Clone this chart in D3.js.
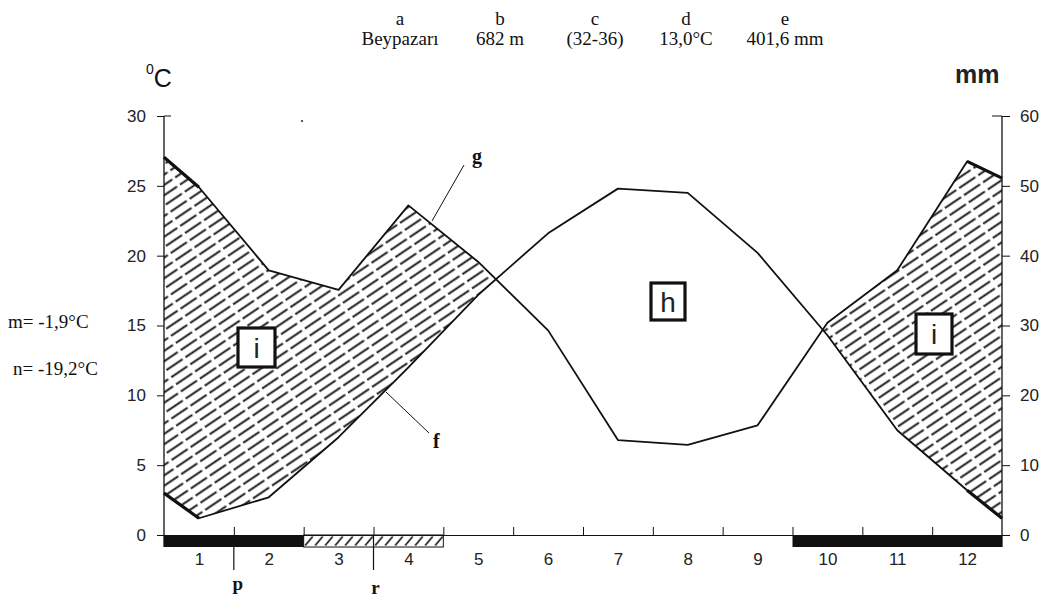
<!DOCTYPE html>
<html><head><meta charset="utf-8">
<script src="https://cdn.jsdelivr.net/npm/d3@7"></script>
<style>body{margin:0;background:#fff}svg{display:block}</style>
</head><body>
<svg id="c" width="1047" height="602"></svg>
<script>
// ---- data ----
const monthLabels = ["1","2","3","4","5","6","7","8","9","10","11","12"];
const monthValues = [1,2,3,4,5,6,7,8,9,10,11,12];
// line vertices (month position), incl. the two edge points of the diagram
const linePos = [0.5,1,2,3,4,5,6,7,8,9,10,11,12,12.5];
const temperature = [3.0,1.2,2.7,7.0,12.0,17.2,21.6,24.8,24.5,20.2,14.3,7.5,3.2,1.2];
const precipitation = [54.1,49.8,37.9,35.1,47.2,39.1,29.3,13.6,12.9,15.7,30.4,37.9,53.5,51.1];
const tempTicks = [0,5,10,15,20,25,30];
const precipTicks = [0,10,20,30,40,50,60];
const blackPeriods = [[0.5,2.5],[9.5,12.5]];
const hatchPeriods = [[2.5,4.5]];
const boundaryTicks = [1.5,2.5,3.5,4.5,5.5,6.5,7.5,8.5,9.5,10.5,11.5];
const markLabels = ["p","r"];
const markPos = [1.5,3.5];
const headerKeys = ["a","b","c","d","e"];
const headerValues = ["Beypazarı","682 m","(32-36)","13,0°C","401,6 mm"];
const sideTexts = ["m= -1,9°C","n= -19,2°C"];

// ---- layout ----
const svg = d3.select("#c");
const L = 164, R = 1002, T = 116, B = 535, barH = 12;
const x = d3.scaleLinear([0.5,12.5],[L,R]);
const yT = d3.scaleLinear([0,30],[B,T]);
const yP = d3.scaleLinear([0,60],[B,T]);
const ink = "#111";
const sans = "'Liberation Sans', Arial, sans-serif";
const serif = "'Liberation Serif', 'Times New Roman', serif";

const defs = svg.append("defs");
const pat = defs.append("pattern").attr("id","hatch").attr("patternUnits","userSpaceOnUse")
  .attr("width",23).attr("height",8.6).attr("patternTransform","rotate(-34)");
pat.append("line").attr("x1",0).attr("y1",4.3).attr("x2",19.5).attr("y2",4.3)
  .attr("stroke",ink).attr("stroke-width",1.9);
const pat2 = defs.append("pattern").attr("id","slash").attr("patternUnits","userSpaceOnUse")
  .attr("x",x(2.5)).attr("y",B).attr("width",10).attr("height",barH);
pat2.append("line").attr("x1",1.5).attr("y1",barH-1.5).attr("x2",9).attr("y2",1.5)
  .attr("stroke",ink).attr("stroke-width",1.6);

const pts = linePos.map((m,i)=>({m, t:temperature[i], p:precipitation[i]}));

// clip: region above the temperature line
defs.append("clipPath").attr("id","aboveT").append("path")
  .attr("d", d3.area().x(d=>x(d.m)).y0(0).y1(d=>yT(d.t))(pts));
// humid (hatched) area: below precipitation, above temperature
svg.append("path")
  .attr("d", d3.area().x(d=>x(d.m)).y0(B).y1(d=>yP(d.p))(pts))
  .attr("fill","url(#hatch)").attr("clip-path","url(#aboveT)");

// lines
const lT = d3.line().x(d=>x(d.m)).y(d=>yT(d.t));
const lP = d3.line().x(d=>x(d.m)).y(d=>yP(d.p));
svg.append("path").attr("d",lT(pts)).attr("fill","none").attr("stroke",ink).attr("stroke-width",1.8).attr("stroke-linejoin","round");
svg.append("path").attr("d",lP(pts)).attr("fill","none").attr("stroke",ink).attr("stroke-width",1.8).attr("stroke-linejoin","round");
const n = pts.length;
[[0,1],[n-2,n-1]].forEach(([a,b])=>{
  svg.append("path").attr("d",lT([pts[a],pts[b]])).attr("stroke",ink).attr("stroke-width",3.2).attr("fill","none");
  svg.append("path").attr("d",lP([pts[a],pts[b]])).attr("stroke",ink).attr("stroke-width",3.2).attr("fill","none");
});

// bottom bar
svg.selectAll("rect.blk").data(blackPeriods).join("rect")
  .attr("x",d=>x(d[0])).attr("y",B).attr("width",d=>x(d[1])-x(d[0])).attr("height",barH).attr("fill",ink);
svg.selectAll("rect.hat").data(hatchPeriods).join("rect")
  .attr("x",d=>x(d[0])).attr("y",B).attr("width",d=>x(d[1])-x(d[0])).attr("height",barH)
  .attr("fill","url(#slash)").attr("stroke",ink).attr("stroke-width",1);

// axes
const axL = svg.append("g").attr("transform",`translate(${L},0)`)
  .call(d3.axisLeft(yT).tickValues(tempTicks).tickSize(7).tickSizeOuter(0).tickPadding(11));
const axR = svg.append("g").attr("transform",`translate(${R},0)`)
  .call(d3.axisRight(yP).tickValues(precipTicks).tickSize(8).tickSizeOuter(0).tickPadding(10));
[axL,axR].forEach(g=>{
  g.select(".domain").remove();
  g.selectAll(".tick line").attr("stroke",ink);
  g.selectAll("text").attr("font-family",sans).attr("font-size",17).attr("fill","#222");
});
svg.append("line").attr("x1",L).attr("x2",L).attr("y1",T).attr("y2",B+barH).attr("stroke",ink).attr("stroke-width",1.3);
svg.append("line").attr("x1",R).attr("x2",R).attr("y1",T).attr("y2",B+barH).attr("stroke",ink).attr("stroke-width",1.3);
svg.append("line").attr("x1",L).attr("x2",L+7).attr("y1",yT(30)).attr("y2",yT(30)).attr("stroke",ink);
svg.append("line").attr("x1",R-10).attr("x2",R).attr("y1",yP(60)).attr("y2",yP(60)).attr("stroke",ink);

const axTop = svg.append("g").attr("transform",`translate(0,${B})`)
  .call(d3.axisTop(x).tickValues(boundaryTicks).tickSize(8).tickSizeOuter(0).tickFormat(""));
axTop.select(".domain").attr("stroke",ink);
axTop.selectAll(".tick line").attr("stroke",ink);

const axB = svg.append("g").attr("transform",`translate(0,${B+barH})`)
  .call(d3.axisBottom(x).tickValues(monthValues).tickSize(0).tickPadding(6).tickFormat((d,i)=>monthLabels[i]));
axB.select(".domain").remove();
axB.selectAll("text").attr("font-family",sans).attr("font-size",17).attr("fill","#222");

// p / r marks
markPos.forEach((m,i)=>{
  svg.append("line").attr("x1",x(m)).attr("x2",x(m)).attr("y1",B).attr("y2",570).attr("stroke",ink).attr("stroke-width",1.2);
  svg.append("text").attr("x",x(m)+(i?2:4)).attr("y",i?594:590).attr("text-anchor","middle")
    .attr("font-family",serif).attr("font-weight","bold").attr("font-size",19).attr("fill",ink).text(markLabels[i]);
});

// unit labels
const cu = svg.append("text").attr("x",146).attr("y",87).attr("font-family",sans).attr("fill",ink);
cu.append("tspan").attr("font-size",14).attr("dy",-13).text("0");
cu.append("tspan").attr("font-size",25).attr("dy",13).text("C");
svg.append("text").attr("x",955).attr("y",83).attr("font-family",sans).attr("font-size",25)
  .attr("font-weight","bold").attr("fill","#222").text("mm");

// header
const hx = [400,500,595,686,785];
headerKeys.forEach((k,i)=>{
  svg.append("text").attr("x",hx[i]).attr("y",25).attr("text-anchor","middle").attr("font-family",serif).attr("font-size",19).attr("fill",ink).text(k);
  svg.append("text").attr("x",hx[i]).attr("y",45).attr("text-anchor","middle").attr("font-family",serif).attr("font-size",19).attr("fill",ink).text(headerValues[i]);
});
svg.append("text").attr("x",8).attr("y",328).attr("font-family",serif).attr("font-size",19).attr("fill",ink).text(sideTexts[0]);
svg.append("text").attr("x",13).attr("y",375).attr("font-family",serif).attr("font-size",19).attr("fill",ink).text(sideTexts[1]);

// small stray dot
svg.append("circle").attr("cx",302).attr("cy",121).attr("r",1.1).attr("fill","#333");

// boxed labels
function box(x0,y0,w,h,t){
  svg.append("rect").attr("x",x0).attr("y",y0).attr("width",w).attr("height",h)
    .attr("fill","#fff").attr("stroke",ink).attr("stroke-width",3.2);
  svg.append("text").attr("x",x0+w/2).attr("y",y0+h/2+10).attr("text-anchor","middle")
    .attr("font-family",sans).attr("font-size",28).attr("fill","#222").text(t);
}
box(238,328,37,39,"i");
box(651,283,34,37,"h");
box(916,314,36,40,"i");

// pointer labels
svg.append("line").attr("x1",464).attr("y1",165).attr("x2",432).attr("y2",221).attr("stroke",ink).attr("stroke-width",1);
svg.append("text").attr("x",472).attr("y",163).attr("font-family",serif).attr("font-weight","bold").attr("font-size",20).attr("fill",ink).text("g");
svg.append("line").attr("x1",386).attr("y1",392).attr("x2",429).attr("y2",433).attr("stroke",ink).attr("stroke-width",1);
svg.append("text").attr("x",433).attr("y",448).attr("font-family",serif).attr("font-weight","bold").attr("font-size",20).attr("fill",ink).text("f");
</script>
</body></html>
